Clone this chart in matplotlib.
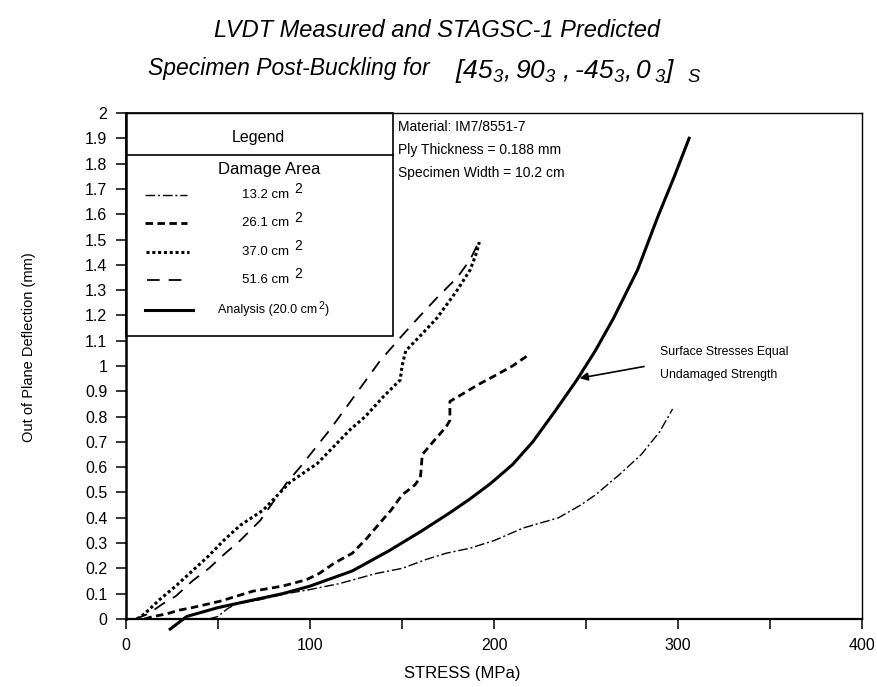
import matplotlib
matplotlib.use('Agg')
import matplotlib.pyplot as plt
from matplotlib.patches import Rectangle
from matplotlib.lines import Line2D

plt.rcParams['font.family'] = ['Liberation Sans', 'DejaVu Sans']
plt.rcParams['mathtext.fontset'] = 'custom'
plt.rcParams['mathtext.rm'] = 'Liberation Sans:italic'
plt.rcParams['mathtext.it'] = 'Liberation Sans:italic'
plt.rcParams['mathtext.bf'] = 'Liberation Sans:bold'

## curvas (tensao MPa, deflexao mm)
s132 = [45, 50, 55, 60, 72, 87, 99, 116, 136, 150, 163, 174, 187, 200, 216, 235, 247, 255, 268, 280, 290, 297]
d132 = [0, 0.01, 0.04, 0.06, 0.075, 0.10, 0.115, 0.14, 0.18, 0.20, 0.235, 0.26, 0.28, 0.31, 0.36, 0.40, 0.45, 0.49, 0.57, 0.65, 0.74, 0.83]

s261 = [10, 15, 22, 29, 36, 51, 69, 85, 98, 105, 113, 123, 131, 138, 144, 150, 157, 160, 161, 168, 174, 176, 176, 183, 191, 200, 210, 218]
d261 = [0, 0.01, 0.02, 0.035, 0.045, 0.07, 0.11, 0.13, 0.155, 0.18, 0.22, 0.26, 0.32, 0.38, 0.43, 0.49, 0.53, 0.56, 0.65, 0.71, 0.76, 0.785, 0.86, 0.89, 0.925, 0.96, 1.0, 1.04]

s370 = [6, 10, 18, 27, 36, 45, 53, 62, 74.5, 89, 104, 122, 130, 140, 149, 150, 152, 160, 169, 180, 187, 190.6, 192]
d370 = [0, 0.02, 0.075, 0.13, 0.19, 0.25, 0.31, 0.37, 0.43, 0.54, 0.615, 0.75, 0.80, 0.88, 0.945, 1.0, 1.06, 1.12, 1.19, 1.30, 1.38, 1.45, 1.49]

s516 = [5, 12, 20, 27, 36, 45, 54, 62, 73, 87.5, 94.6, 111, 120, 128, 138, 150, 160, 169, 180, 187, 191, 192]
d516 = [0, 0.02, 0.06, 0.09, 0.15, 0.20, 0.26, 0.31, 0.39, 0.54, 0.60, 0.75, 0.84, 0.92, 1.02, 1.12, 1.20, 1.27, 1.35, 1.42, 1.48, 1.50]

s_an = [24, 33, 50, 69, 85, 100, 123, 143, 160, 176, 187, 198, 210, 221, 233, 245, 255, 265, 278, 289, 298, 306]
d_an = [-0.04, 0.01, 0.045, 0.075, 0.10, 0.13, 0.19, 0.27, 0.345, 0.42, 0.475, 0.535, 0.61, 0.70, 0.82, 0.945, 1.06, 1.19, 1.38, 1.59, 1.75, 1.90]

labels = ['13.2 cm', '26.1 cm', '37.0 cm', '51.6 cm']
yticks = [i / 10 for i in range(21)]
ytick_labels = ['0', '0.1', '0.2', '0.3', '0.4', '0.5', '0.6', '0.7', '0.8', '0.9', '1',
                '1.1', '1.2', '1.3', '1.4', '1.5', '1.6', '1.7', '1.8', '1.9', '2']

estilos = [
    dict(ls=(0, (7, 2, 1.5, 2)), lw=1.0),
    dict(ls=(0, (2.7, 1.6)), lw=2.0),
    dict(ls=(0, (1, 0.9)), lw=2.2),
    dict(ls=(0, (7, 5)), lw=1.3),
    dict(ls='-', lw=2.2),
]

fig = plt.figure(figsize=(8.77, 6.87), dpi=100)
ax = fig.add_axes([0.1437, 0.099, 0.8393, 0.7365])

dados = [(s132, d132), (s261, d261), (s370, d370), (s516, d516), (s_an, d_an)]
for (s, d), est in zip(dados, estilos):
    ax.plot(s, d, color='black', clip_on=False, **est)

ax.set_xlim(0, 400)
ax.set_ylim(0, 2)
ax.set_xticks([0, 100, 200, 300, 400])
ax.set_xticks([50, 150, 250, 350], minor=True)
ax.set_yticks(yticks)
ax.set_yticklabels(ytick_labels)
ax.tick_params(axis='both', which='both', direction='out', length=7.5, width=1.1,
               labelsize=11.5, pad=6)
for sp in ax.spines.values():
    sp.set_linewidth(1)
ax.spines['left'].set_linewidth(1.8)
ax.spines['bottom'].set_linewidth(1.6)

ax.set_xlabel('STRESS (MPa)', fontsize=12)
ax.xaxis.set_label_coords(0.4565, -0.107)
ax.set_ylabel('Out of Plane Deflection (mm)', fontsize=10.5)
ax.yaxis.set_label_coords(-0.132, 0.537)
ax.yaxis.label.set_va('center')
ax.xaxis.label.set_va('center')

## caixa da legenda
ax.add_patch(Rectangle((0, 1.12), 145, 0.88, fill=False, lw=1.2, ec='black', clip_on=False))
ax.plot([0, 145], [1.834, 1.834], color='black', lw=1.2)
ax.text(72, 1.905, 'Legend', ha='center', va='center', fontsize=11.5)
ax.text(78, 1.775, 'Damage Area', ha='center', va='center', fontsize=12)

ys = [1.676, 1.565, 1.451, 1.34, 1.221]
xs_amostra = [(10.3, 33), (10.3, 33), (11, 34), (11.4, 30.4), (10.3, 36.4)]
for yy, (xa, xb), est in zip(ys, xs_amostra, estilos):
    ax.add_line(Line2D([xa, xb], [yy, yy], color='black', **est))

for yy, lab in zip(ys[:4], labels):
    t = ax.text(63, yy, lab, ha='left', va='center', fontsize=9.5)
    ax.annotate('2', xy=(1, 0.5), xycoords=t, xytext=(4, 4), textcoords='offset points',
                ha='left', va='center', fontsize=10)

t = ax.text(50, ys[4], 'Analysis (20.0 cm', ha='left', va='center', fontsize=9)
t2 = ax.annotate('2', xy=(1, 0.5), xycoords=t, xytext=(0.8, 3), textcoords='offset points',
                 ha='left', va='center', fontsize=7.5)
ax.annotate(')', xy=(1, 0.5), xycoords=t2, xytext=(0.3, -3), textcoords='offset points',
            ha='left', va='center', fontsize=9)

ax.text(148, 1.945, 'Material: IM7/8551-7', fontsize=10, va='center')
ax.text(148, 1.854, 'Ply Thickness = 0.188 mm', fontsize=10, va='center')
ax.text(148, 1.763, 'Specimen Width = 10.2 cm', fontsize=10, va='center')

ax.annotate('', xy=(245, 0.95), xytext=(283, 1.00),
            arrowprops=dict(arrowstyle='-|>', color='black', lw=1.2, mutation_scale=12))
ax.text(290, 1.055, 'Surface Stresses Equal', fontsize=8.8, va='center')
ax.text(290, 0.964, 'Undamaged Strength', fontsize=8.8, va='center')

fig.text(0.498, 0.956, 'LVDT Measured and STAGSC-1 Predicted', ha='center', va='center',
         fontsize=17, style='italic')
fig.text(0.1688, 0.901, 'Specimen Post-Buckling for', ha='left', va='center',
         fontsize=16.5, style='italic')
fig.text(0.519, 0.897, r'$[45_3,90_3\ ,\text{-}45_3,0\,_{3}]\ \ _{S}$', ha='left', va='center',
         fontsize=19)

fig.savefig('out.png', dpi=100)
